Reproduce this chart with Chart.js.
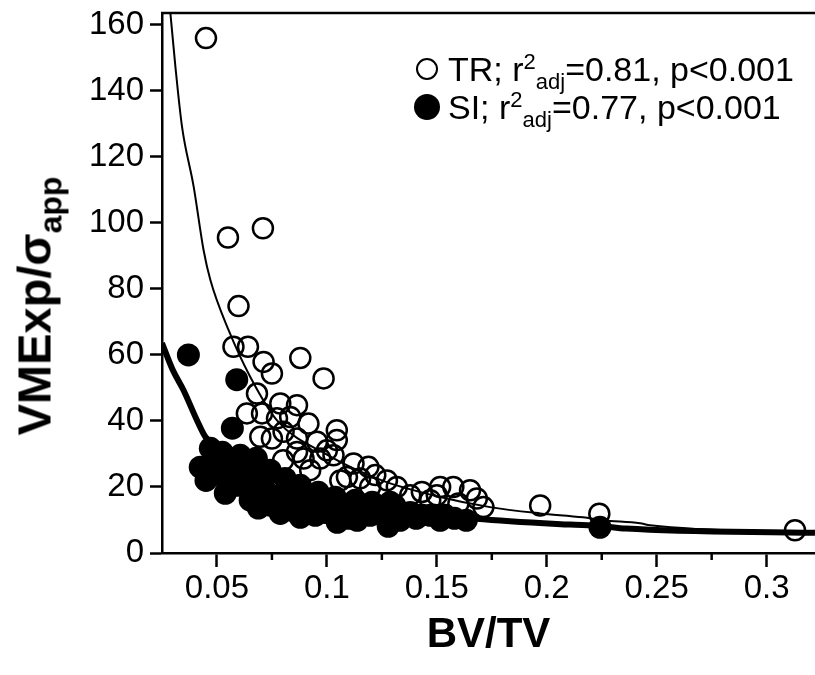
<!DOCTYPE html>
<html>
<head>
<meta charset="utf-8">
<script src="https://cdn.jsdelivr.net/npm/chart.js@4.4.1/dist/chart.umd.min.js"></script>
<style>
    body { margin: 0; background: #fff; }
    #wrap { position: relative; width: 815px; height: 675px; overflow: hidden; }
    #chart { position: absolute; left: 0; top: 0; }
    .y-title {
        position: absolute; left: 38px; top: 306px;
        transform: translate(-50%, -50%) rotate(-90deg);
        font: bold 47px "Liberation Sans", Arial, sans-serif;
        white-space: nowrap; color: #000;
    }
    .y-title sub { font-size: 32px; vertical-align: -11px; }
    .legend {
        position: absolute; left: 412px; top: 50px;
        font: 34px "Liberation Sans", Arial, sans-serif; color: #000;
    }
    .legend .row { height: 38px; line-height: 38px; white-space: nowrap; }
    .legend .mk { display: inline-block; width: 30px; height: 38px; vertical-align: top; position: relative; margin-right: 6px; }
    .legend .mk::after { content: ''; position: absolute; left: 50%; top: 50%; transform: translate(-50%, -50%); border-radius: 50%; box-sizing: border-box; }
    .legend .open::after { width: 22px; height: 22px; border: 2.5px solid #000; }
    .legend .filled::after { width: 26px; height: 26px; background: #000; }
    .legend sup { font-size: 22px; vertical-align: 12px; line-height: 0; }
    .legend sub { font-size: 22px; vertical-align: -8px; line-height: 0; }
</style>
</head>
<body>
<div id="wrap">
    <canvas id="chart" width="815" height="675"></canvas>
    <div class="y-title">VMExp/σ<sub>app</sub></div>
    <div class="legend">
        <div class="row"><span class="mk open"></span>TR; r<sup>2</sup><sub>adj</sub>=0.81, p&lt;0.001</div>
        <div class="row"><span class="mk filled"></span>SI; r<sup>2</sup><sub>adj</sub>=0.77, p&lt;0.001</div>
    </div>
</div>
<script>
// TR (open circles)
const trX = [0.045, 0.055, 0.0709, 0.0598, 0.0575, 0.0641, 0.0712, 0.075, 0.0879, 0.0985,
    0.0682, 0.0788, 0.0864, 0.0636, 0.0705, 0.0773, 0.0833, 0.0916, 0.1045, 0.1045,
    0.0697, 0.075, 0.0803, 0.0864, 0.0955, 0.1, 0.0864, 0.0894, 0.097, 0.103,
    0.1121, 0.1189, 0.1091, 0.1151, 0.122, 0.1273, 0.1318, 0.1061, 0.1197, 0.1379,
    0.1432, 0.1515, 0.1575, 0.1651, 0.147, 0.1598, 0.1682, 0.1712, 0.15, 0.197,
    0.2239, 0.3129, 0.0801, 0.0924, 0.131];
const trY = [156.0, 95.6, 98.4, 74.8, 62.5, 62.5, 57.9, 54.4, 59.1, 52.9,
    48.3, 45.3, 44.8, 42.3, 42.3, 40.8, 41.2, 39.2, 37.2, 34.2,
    35.2, 34.7, 36.7, 34.7, 33.7, 31.1, 30.6, 28.6, 28.6, 29.6,
    27.1, 26.1, 23.0, 22.6, 23.6, 22.0, 20.0, 22.0, 20.0, 17.5,
    18.5, 20.0, 20.0, 19.0, 16.0, 15.0, 16.5, 13.9, 17.5, 14.4,
    11.9, 6.9, 28.1, 25.1, 14.4];

// SI (filled circles)
const siX = [0.037, 0.059, 0.057, 0.0424, 0.047, 0.0524, 0.0606, 0.0679, 0.0742, 0.081,
    0.0879, 0.0961, 0.1038, 0.1129, 0.1206, 0.1288, 0.1379, 0.147, 0.1538, 0.1634,
    0.0479, 0.0538, 0.0597, 0.0651, 0.0688, 0.0742, 0.0788, 0.0842, 0.0879, 0.0947,
    0.0992, 0.1047, 0.1097, 0.1138, 0.1197, 0.1279, 0.1333, 0.1406, 0.1515, 0.2242,
    0.0561, 0.0706, 0.0788, 0.0924, 0.05, 0.062, 0.066, 0.072, 0.077, 0.083,
    0.09, 0.095, 0.102, 0.108, 0.115, 0.125, 0.135, 0.143, 0.158, 0.045,
    0.052, 0.064, 0.085, 0.099, 0.11, 0.118];
const siY = [60.0, 52.5, 37.8, 26.0, 31.7, 30.5, 29.6, 28.7, 25.1, 22.6,
    20.5, 18.4, 16.9, 16.0, 15.4, 15.4, 12.3, 11.4, 11.4, 9.9,
    23.6, 18.1, 20.5, 16.0, 13.6, 14.5, 12.0, 12.9, 10.8, 11.4,
    12.3, 9.3, 10.5, 9.9, 11.4, 8.1, 9.9, 10.5, 9.9, 7.8,
    26.6, 20.5, 17.5, 16.0, 27.0, 24.0, 21.0, 19.0, 17.0, 16.0,
    14.5, 15.5, 13.5, 13.0, 12.5, 11.5, 12.0, 11.5, 10.5, 22.0,
    24.0, 26.0, 19.0, 14.0, 14.5, 13.0];

// fitted curves
const trFitX = [0.0282, 0.0311, 0.0341, 0.0394, 0.0439, 0.047, 0.0553, 0.0651, 0.0773, 0.1,
    0.125, 0.15, 0.1742, 0.197, 0.2165, 0.2256, 0.2424, 0.247, 0.322];
const trFitY = [168, 147.3, 129.2, 111.0, 91.8, 82.7, 67.5, 53.4, 40.2, 29.8,
    22.0, 17.2, 13.9, 12.0, 10.8, 9.9, 9.0, 8.4, 6.2];
const siFitX = [0.025, 0.0298, 0.0348, 0.0409, 0.0447, 0.05, 0.06, 0.08, 0.1, 0.13,
    0.168, 0.2106, 0.224, 0.236, 0.322];
const siFitY = [63.6, 55.6, 49.3, 40.2, 35.2, 32.0, 27.7, 21.0, 17.0, 13.3,
    10.4, 8.6, 8.2, 7.4, 6.1];

const xTicks = [0.05, 0.1, 0.15, 0.2, 0.25, 0.3];
const xTickLabels = ['0.05', '0.1', '0.15', '0.2', '0.25', '0.3'];
const xMinorTicks = [0.075, 0.125, 0.175, 0.225, 0.275];
const yTicks = [0, 20, 40, 60, 80, 100, 120, 140, 160];

const toPoints = (xs, ys) => xs.map((x, i) => ({ x: x, y: ys[i] }));

// top frame line and the short minor ticks on the x axis
const frameExtras = {
    id: 'frameExtras',
    afterDraw(chart) {
        const { ctx, chartArea, scales } = chart;
        ctx.save();
        ctx.strokeStyle = '#000';
        ctx.lineWidth = 2.5;
        ctx.beginPath();
        ctx.moveTo(chartArea.left - 1, chartArea.top);
        ctx.lineTo(chartArea.right, chartArea.top);
        ctx.stroke();
        xMinorTicks.forEach(v => {
            const px = scales.x.getPixelForValue(v);
            ctx.beginPath();
            ctx.moveTo(px, chartArea.bottom);
            ctx.lineTo(px, chartArea.bottom + 7);
            ctx.stroke();
        });
        ctx.restore();
    }
};

const tickFont = { family: '"Liberation Sans", Arial, sans-serif', size: 33 };

new Chart(document.getElementById('chart'), {
    type: 'scatter',
    data: {
        datasets: [
            {
                label: 'SI fit',
                data: toPoints(siFitX, siFitY),
                showLine: true,
                borderColor: '#000',
                borderWidth: 6,
                pointRadius: 0,
                cubicInterpolationMode: 'monotone'
            },
            {
                label: 'TR fit',
                data: toPoints(trFitX, trFitY),
                showLine: true,
                borderColor: '#000',
                borderWidth: 2,
                pointRadius: 0,
                cubicInterpolationMode: 'monotone'
            },
            {
                label: 'SI',
                data: toPoints(siX, siY),
                pointRadius: 11.5,
                pointBackgroundColor: '#000',
                pointBorderWidth: 0
            },
            {
                label: 'TR',
                data: toPoints(trX, trY),
                pointRadius: 10,
                pointBackgroundColor: 'rgba(0,0,0,0)',
                pointBorderColor: '#000',
                pointBorderWidth: 2.5
            }
        ]
    },
    options: {
        responsive: false,
        animation: false,
        layout: { autoPadding: false, padding: { top: 13, right: 0, left: 0, bottom: 0 } },
        plugins: {
            legend: { display: false },
            tooltip: { enabled: false }
        },
        scales: {
            x: {
                type: 'linear',
                min: 0.025,
                max: 0.322,
                afterFit: scale => {
                    scale.height = 122;
                    scale.paddingLeft = 0;
                    scale.paddingRight = 0;
                },
                afterBuildTicks: scale => { scale.ticks = xTicks.map(v => ({ value: v })); },
                border: { display: true, color: '#000', width: 2.5 },
                grid: { drawOnChartArea: false, color: '#000', tickLength: 14, tickWidth: 2.5 },
                ticks: {
                    color: '#000',
                    font: tickFont,
                    padding: 2,
                    maxRotation: 0,
                    callback: (value, index) => xTickLabels[index]
                },
                title: {
                    display: true,
                    text: 'BV/TV',
                    color: '#000',
                    font: { family: '"Liberation Sans", Arial, sans-serif', size: 42, weight: 'bold' },
                    padding: { top: 0, bottom: 14 }
                }
            },
            y: {
                type: 'linear',
                min: 0,
                max: 163.6,
                afterFit: scale => {
                    scale.width = 162;
                    scale.paddingTop = 0;
                    scale.paddingBottom = 0;
                },
                afterBuildTicks: scale => { scale.ticks = yTicks.map(v => ({ value: v })); },
                border: { display: true, color: '#000', width: 2.5 },
                grid: { drawOnChartArea: false, color: '#000', tickLength: 12, tickWidth: 2.5 },
                ticks: {
                    color: '#000',
                    font: tickFont,
                    padding: 6,
                    callback: value => String(value)
                }
            }
        }
    },
    plugins: [frameExtras]
});
</script>
</body>
</html>
